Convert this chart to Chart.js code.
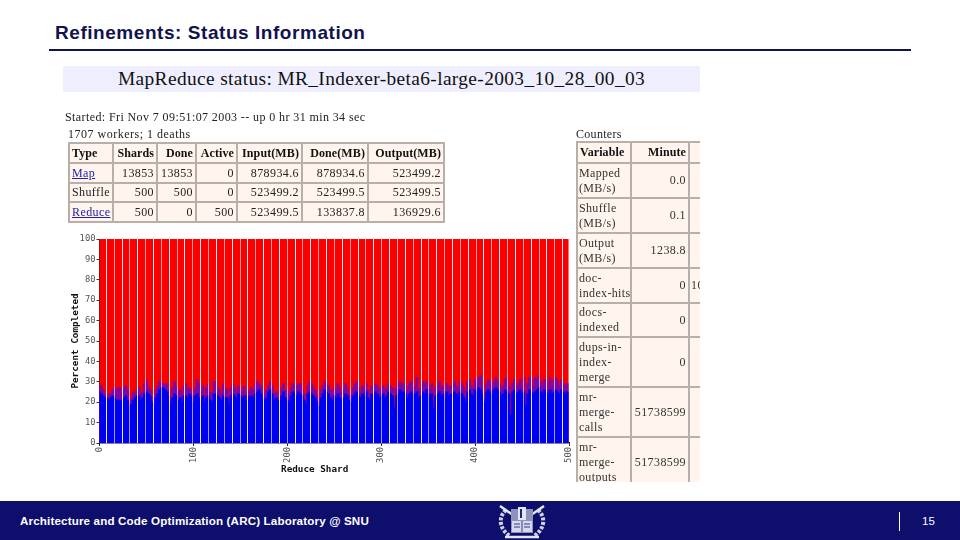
<!DOCTYPE html>
<html><head><meta charset="utf-8">
<style>
html,body{margin:0;padding:0;background:#fff;width:960px;height:540px;overflow:hidden}
.abs{position:absolute}
#title{left:55px;top:22px;font:bold 19px "Liberation Sans",Arial,sans-serif;letter-spacing:.55px;color:#12124f;white-space:nowrap}
#rule{left:49px;top:49px;width:862px;height:2px;background:#12124f}
#band{left:63px;top:66px;width:637px;height:26px;background:#eeeeff}
#head{left:118px;top:68px;font:19.4px "Liberation Serif",serif;color:#111;white-space:nowrap;letter-spacing:.36px}
.shot{font:12px "Liberation Serif",serif;color:#222;white-space:nowrap;filter:blur(.3px)}
table{border-collapse:collapse;table-layout:fixed;background:#fff5ee;font:12px "Liberation Serif",serif;color:#333}
td,th{border:2px solid #b8b0a8;padding:0 2px;overflow:hidden;white-space:nowrap;letter-spacing:.4px}
th{font-weight:bold;color:#111;letter-spacing:.1px}
td.n{text-align:right}
th.n{text-align:right}
th.l{text-align:left}
td.w{line-height:15px;letter-spacing:.35px;padding-left:1px}
a{color:#2222aa}
#t2box{left:576px;top:141px;width:124px;height:341px;overflow:hidden}
#foot{left:0;top:501px;width:960px;height:39px;background:#0e0e6c}
#foottext{left:20px;top:514px;font:bold 11.6px "Liberation Sans",Arial,sans-serif;letter-spacing:.16px;color:#fff;white-space:nowrap}
#pgbar{left:899px;top:512px;width:1px;height:19px;background:#fff}
#pg{left:922px;top:515px;font:11.5px "Liberation Sans",Arial,sans-serif;color:#fff}
#wrap{left:60px;top:232px;width:516px;height:245px}
</style></head><body>
<div class="abs" id="title">Refinements: Status Information</div>
<div class="abs" id="rule"></div>
<div class="abs" id="band"></div>
<div class="abs" id="head">MapReduce status: MR_Indexer-beta6-large-2003_10_28_00_03</div>
<div class="abs shot" style="left:65px;top:110px;letter-spacing:.4px">Started: Fri Nov 7 09:51:07 2003 -- up 0 hr 31 min 34 sec</div>
<div class="abs shot" style="left:68px;top:127px;letter-spacing:.5px">1707 workers; 1 deaths</div>
<div class="abs shot" style="left:576px;top:127px;letter-spacing:.3px">Counters</div>

<table class="abs shot" style="left:68px;top:142px;width:375px;height:80px">
<colgroup><col style="width:44px"><col style="width:44px"><col style="width:39px"><col style="width:41px"><col style="width:65px"><col style="width:66px"><col style="width:76px"></colgroup>
<tr style="height:20px"><th class="l">Type</th><th class="n">Shards</th><th class="n">Done</th><th class="n">Active</th><th class="n">Input(MB)</th><th class="n">Done(MB)</th><th class="n">Output(MB)</th></tr>
<tr style="height:20px"><td><a href="#">Map</a></td><td class="n">13853</td><td class="n">13853</td><td class="n">0</td><td class="n">878934.6</td><td class="n">878934.6</td><td class="n">523499.2</td></tr>
<tr style="height:19px"><td>Shuffle</td><td class="n">500</td><td class="n">500</td><td class="n">0</td><td class="n">523499.2</td><td class="n">523499.5</td><td class="n">523499.5</td></tr>
<tr style="height:20px"><td><a href="#">Reduce</a></td><td class="n">500</td><td class="n">0</td><td class="n">500</td><td class="n">523499.5</td><td class="n">133837.8</td><td class="n">136929.6</td></tr>
</table>

<div class="abs shot" id="t2box">
<table style="width:140px">
<colgroup><col style="width:54px"><col style="width:58px"><col style="width:28px"></colgroup>
<tr style="height:21px"><th class="l">Variable</th><th class="n">Minute</th><td></td></tr>
<tr style="height:35px"><td class="w">Mapped<br>(MB/s)</td><td class="n">0.0</td><td></td></tr>
<tr style="height:35px"><td class="w">Shuffle<br>(MB/s)</td><td class="n">0.1</td><td></td></tr>
<tr style="height:35px"><td class="w">Output<br>(MB/s)</td><td class="n">1238.8</td><td></td></tr>
<tr style="height:35px"><td class="w">doc-<br>index-hits</td><td class="n">0</td><td style="padding-left:1px">10</td></tr>
<tr style="height:34px"><td class="w">docs-<br>indexed</td><td class="n">0</td><td></td></tr>
<tr style="height:50px"><td class="w">dups-in-<br>index-<br>merge</td><td class="n">0</td><td></td></tr>
<tr style="height:50px"><td class="w">mr-<br>merge-<br>calls</td><td class="n">51738599</td><td></td></tr>
<tr style="height:50px"><td class="w">mr-<br>merge-<br>outputs</td><td class="n">51738599</td><td></td></tr>
</table>
</div>

<div class="abs" id="wrap"><canvas id="c" width="516" height="245" style="width:516px;height:245px;display:block"></canvas></div>

<div class="abs" id="foot"></div>
<div class="abs" id="foottext">Architecture and Code Optimization (ARC) Laboratory @ SNU</div>
<svg class="abs" style="left:497px;top:503px" width="50" height="36" viewBox="0 0 50 36">
<g fill="none" stroke="#cfd2e6" stroke-width="4" stroke-dasharray="3 1.5">
<path d="M9 7 C1 14 2 26 13 33"/><path d="M41 7 C49 14 48 26 37 33"/></g>
<path d="M3 3 L16 12 M47 3 L34 12 M8 34 L42 34" stroke="#e4e6f2" stroke-width="2.5"/>
<path d="M14 6 H36 V30 H14 Z" fill="#8f92bf"/>
<rect x="15" y="18" width="20" height="11" fill="#d7d9ea"/>
<path d="M25 18 V29 M17 21 H23 M17 24 H23 M27 21 H33 M27 24 H33" stroke="#39398a" stroke-width="1"/>
<path d="M21 4 H29 V17 H21 Z" fill="#e4e6f2"/><path d="M24 6 V15" stroke="#23237a" stroke-width="2"/>
</svg>
<div class="abs" id="pgbar"></div>
<div class="abs" id="pg">15</div>

<script src="https://cdn.jsdelivr.net/npm/chart.js@4"></script>
<script>
// Values, one per two reduce shards (percent completed).
const blueTop = [
25,24,23,22,22,21,22,23,22,21, 21,21,20,22,23,21,18,19,21,22,
23,23,21,22,24,25,24,23,20,19, 22,24,26,27,27,26,25,23,19,22,
24,23,21,22,20,23,23,22,24,23, 20,23,24,22,21,23,20,22,23,21,
20,24,24,23,22,21,23,22,22,19, 23,24,23,22,24,23,22,23,21,23,
22,23,22,24,25,26,24,22,21,22, 25,26,24,21,22,21,20,23,25,22,
21,20,23,25,24,23,25,24,23,21, 19,24,25,24,23,22,20,18,22,24,
26,25,24,22,21,23,22,24,22,21, 22,24,23,21,20,23,24,25,23,22,
24,23,25,22,21,24,23,25,24,22, 23,24,22,23,25,24,23,17,23,24,
26,25,25,24,22,24,25,23,24,25, 22,23,25,24,26,24,23,24,17,23,
24,25,23,24,22,25,23,24,19,25, 24,23,25,24,22,20,25,26,24,23,
26,25,27,26,24,20,25,26,25,24, 26,27,26,25,23,24,26,25,24,14,
25,26,24,25,26,24,25,18,24,26, 25,24,25,26,27,25,24,26,25,24,
26,24,25,26,25,24,26,25,24,25
];
const mixTop = [
28,28,26,24,24,23,24,26,27,26, 27,27,24,27,28,26,19,22,25,24,
26,27,24,25,29,31,27,26,22,23, 26,28,30,29,29,28,29,26,21,27,
30,28,25,26,23,28,29,26,27,26, 24,27,31,29,25,28,23,27,29,25,
24,30,30,27,26,24,29,27,26,21, 27,29,27,25,28,27,25,28,24,26,
25,27,26,29,30,29,28,25,24,26, 28,30,28,24,25,24,23,27,29,26,
25,24,27,29,28,28,29,29,26,24, 21,28,30,29,27,26,23,20,26,28,
30,29,28,26,24,27,26,29,27,25, 26,29,27,24,24,27,29,30,27,25,
28,27,29,26,24,28,27,29,28,26, 27,28,26,27,29,28,27,19,27,29,
30,29,29,28,26,29,30,27,28,32, 26,27,30,29,30,28,27,29,18,27,
28,30,27,28,25,29,27,28,21,30, 28,27,30,29,27,23,30,31,28,27,
31,30,32,33,28,22,29,31,30,28, 30,32,30,29,27,28,31,32,28,14,
29,31,28,29,31,28,32,20,29,32, 31,28,32,31,33,30,28,31,30,28,
32,28,31,32,30,28,31,29,28,29
];
const shards = blueTop.map((_, i) => i * 2);
const shuffledTop = blueTop.map(() => 100);
const xTickLabels = [0, 100, 200, 300, 400, 500];
const yTickLabels = [0, 10, 20, 30, 40, 50, 60, 70, 80, 90, 100];
const gapShards = [7.2,15.6,24,32.3,40.7,49.1,57.5,65.9,74.2,82.6,91,99.4,107.8,116.1,124.5,132.9,141.3,149.7,158,166.4,174.8,183.2,191.6,199.9,208.3,216.7,225.1,233.5,241.8,250.2,258.6,267,275.4,283.7,292.1,300.5,308.9,317.3,325.6,334,342.4,350.8,359.2,367.5,375.9,384.3,392.7,401.1,409.4,417.8,426.2,434.6,443,451.3,459.7,468.1,476.5,484.9,493.2];
const series = (label, values, color, order) => ({
  label, order, grouped: false, backgroundColor: color, borderWidth: 0,
  barPercentage: 1, categoryPercentage: 1, inflateAmount: 0.5,
  data: values.map((y, i) => ({ x: shards[i], y }))
});
const tickFont = { family: '"DejaVu Sans Mono","Liberation Mono",monospace', size: 8.8 };
const titleFont = { family: '"DejaVu Sans Mono","Liberation Mono",monospace', size: 9.3, weight: 'bold' };
new Chart(document.getElementById('c'), {
  type: 'bar',
  data: { datasets: [
    series('Done', blueTop, '#0000f0', 1),
    series('Mixed', mixTop, '#7d08a4', 2),
    series('Shuffled', shuffledTop, '#fb0000', 3)
  ]},
  options: {
    responsive: false, animation: false, devicePixelRatio: 1,
    layout: { autoPadding: false, padding: { left: 10, right: 7, top: 7, bottom: 0 } },
    plugins: { legend: { display: false }, tooltip: { enabled: false } },
    scales: {
      x: {
        type: 'linear', min: 0, max: 500, stacked: false, position: 'bottom', offset: false,
        afterBuildTicks: s => { s.ticks = xTickLabels.map(value => ({ value })); },
        afterFit: s => { s.height = 34; s.paddingLeft = 0; s.paddingRight = 0; },
        grid: { display: true, offset: false, drawOnChartArea: false, drawTicks: true, tickLength: 3, color: '#222' },
        border: { display: true, color: '#111', width: 1.5 },
        ticks: { autoSkip: false, minRotation: 90, maxRotation: 90, padding: 1, color: '#555', font: tickFont },
        title: { display: true, text: 'Reduce Shard       ', color: '#111', font: titleFont, padding: { top: -3, bottom: 2 } }
      },
      gaps: {
        type: 'linear', min: 0, max: 500, position: 'bottom', offset: false,
        afterBuildTicks: s => { s.ticks = gapShards.map(value => ({ value })); },
        afterFit: s => { s.height = 0; s.paddingLeft = 0; s.paddingRight = 0; },
        grid: { display: true, offset: false, z: 1, drawTicks: false, lineWidth: 1,
                color: c => c.index % 2 ? 'rgba(255,255,255,.62)' : 'rgba(255,255,255,.92)' },
        border: { display: false },
        ticks: { display: false, autoSkip: false }
      },
      y: {
        type: 'linear', min: 0, max: 100, stacked: false,
        afterBuildTicks: s => { s.ticks = yTickLabels.map(value => ({ value })); },
        afterFit: s => { s.width = 29.5; },
        grid: { display: true, drawOnChartArea: false, tickLength: 3, color: '#333' },
        border: { display: true, color: '#222', width: 1 },
        ticks: { padding: 1, color: '#555', font: tickFont, autoSkip: false },
        title: { display: true, text: 'Percent Completed', color: '#111', font: titleFont, padding: { top: 0, bottom: 0 } }
      }
    }
  }
});
</script>
</body></html>
